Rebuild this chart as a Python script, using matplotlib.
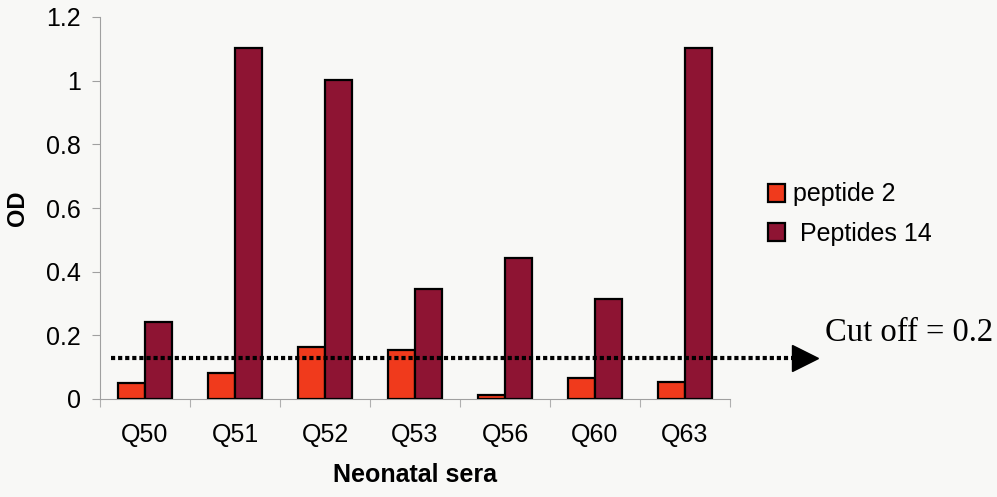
import matplotlib
matplotlib.use("Agg")
import matplotlib.pyplot as plt
import numpy as np

# Values (OD per neonatal serum)
sera = ["Q50", "Q51", "Q52", "Q53", "Q56", "Q60", "Q63"]
peptide2 = [0.05, 0.083, 0.163, 0.154, 0.012, 0.065, 0.052]
peptides14 = [0.242, 1.104, 1.003, 0.345, 0.444, 0.314, 1.104]
cutoff_level = 0.128
yticks = [0, 0.2, 0.4, 0.6, 0.8, 1, 1.2]

plt.rcParams["font.family"] = ["Liberation Sans", "DejaVu Sans"]

bg = "#f8f8f6"
fig = plt.figure(figsize=(9.97, 4.97), dpi=100, facecolor=bg)
ax = fig.add_axes([100 / 997, 98 / 497, 630 / 997, 382 / 497], facecolor=bg)

x = np.arange(len(sera))
w = 0.3
ax.bar(x - w / 2, peptide2, w, color="#f03a1c", edgecolor="black", linewidth=1.6,
       label="peptide 2", zorder=3)
ax.bar(x + w / 2, peptides14, w, color="#8e1433", edgecolor="black", linewidth=1.6,
       label=" Peptides 14", zorder=3)

ax.set_xlim(-0.5, len(sera) - 0.5)
ax.set_ylim(0, 1.2)

# axes styling: thin grey axes, outward ticks
for s in ["top", "right"]:
    ax.spines[s].set_visible(False)
for s in ["left", "bottom"]:
    ax.spines[s].set_color("#a0a0a0")
    ax.spines[s].set_linewidth(0.8)

ax.set_yticks(yticks)
ax.set_yticklabels(["0", "0.2", "0.4", "0.6", "0.8", "1", "1.2"])
ax.tick_params(axis="y", direction="out", length=6, color="#a0a0a0", labelsize=18, pad=8)

ax.set_xticks(np.arange(len(sera) + 1) - 0.5)
ax.set_xticklabels([])
ax.tick_params(axis="x", which="major", direction="out", length=6, color="#b0b0b0")
ax.set_xticks(x, minor=True)
ax.set_xticklabels(sera, minor=True)
ax.tick_params(axis="x", which="minor", length=0, labelsize=18, pad=17)

ax.set_ylabel("OD", fontsize=17, fontweight="bold", labelpad=12)
ax.set_xlabel("Neonatal sera", fontsize=18, fontweight="bold", labelpad=12)

# dotted cut-off line running past the axes, ending in an arrow head
ax.plot([-0.38, 7.2], [cutoff_level, cutoff_level], color="black", lw=3,
        linestyle=(0, (1, 0.7)), clip_on=False, zorder=4)
ax.plot([7.33], [cutoff_level], marker=">", markersize=19, color="black",
        clip_on=False, zorder=4)
fig.text(825 / 997, 1 - 333 / 497, "Cut off = 0.2", fontsize=23.5,
         family=["Liberation Serif", "DejaVu Serif"], va="center", ha="left")

leg = fig.legend(loc="upper left", bbox_to_anchor=(755 / 997, 1 - 170 / 497),
                 frameon=False, fontsize=18, handlelength=0.7, handleheight=0.7,
                 handletextpad=0.3, labelspacing=0.6, borderpad=0)

fig.savefig("out.png", dpi=100, facecolor=bg)
